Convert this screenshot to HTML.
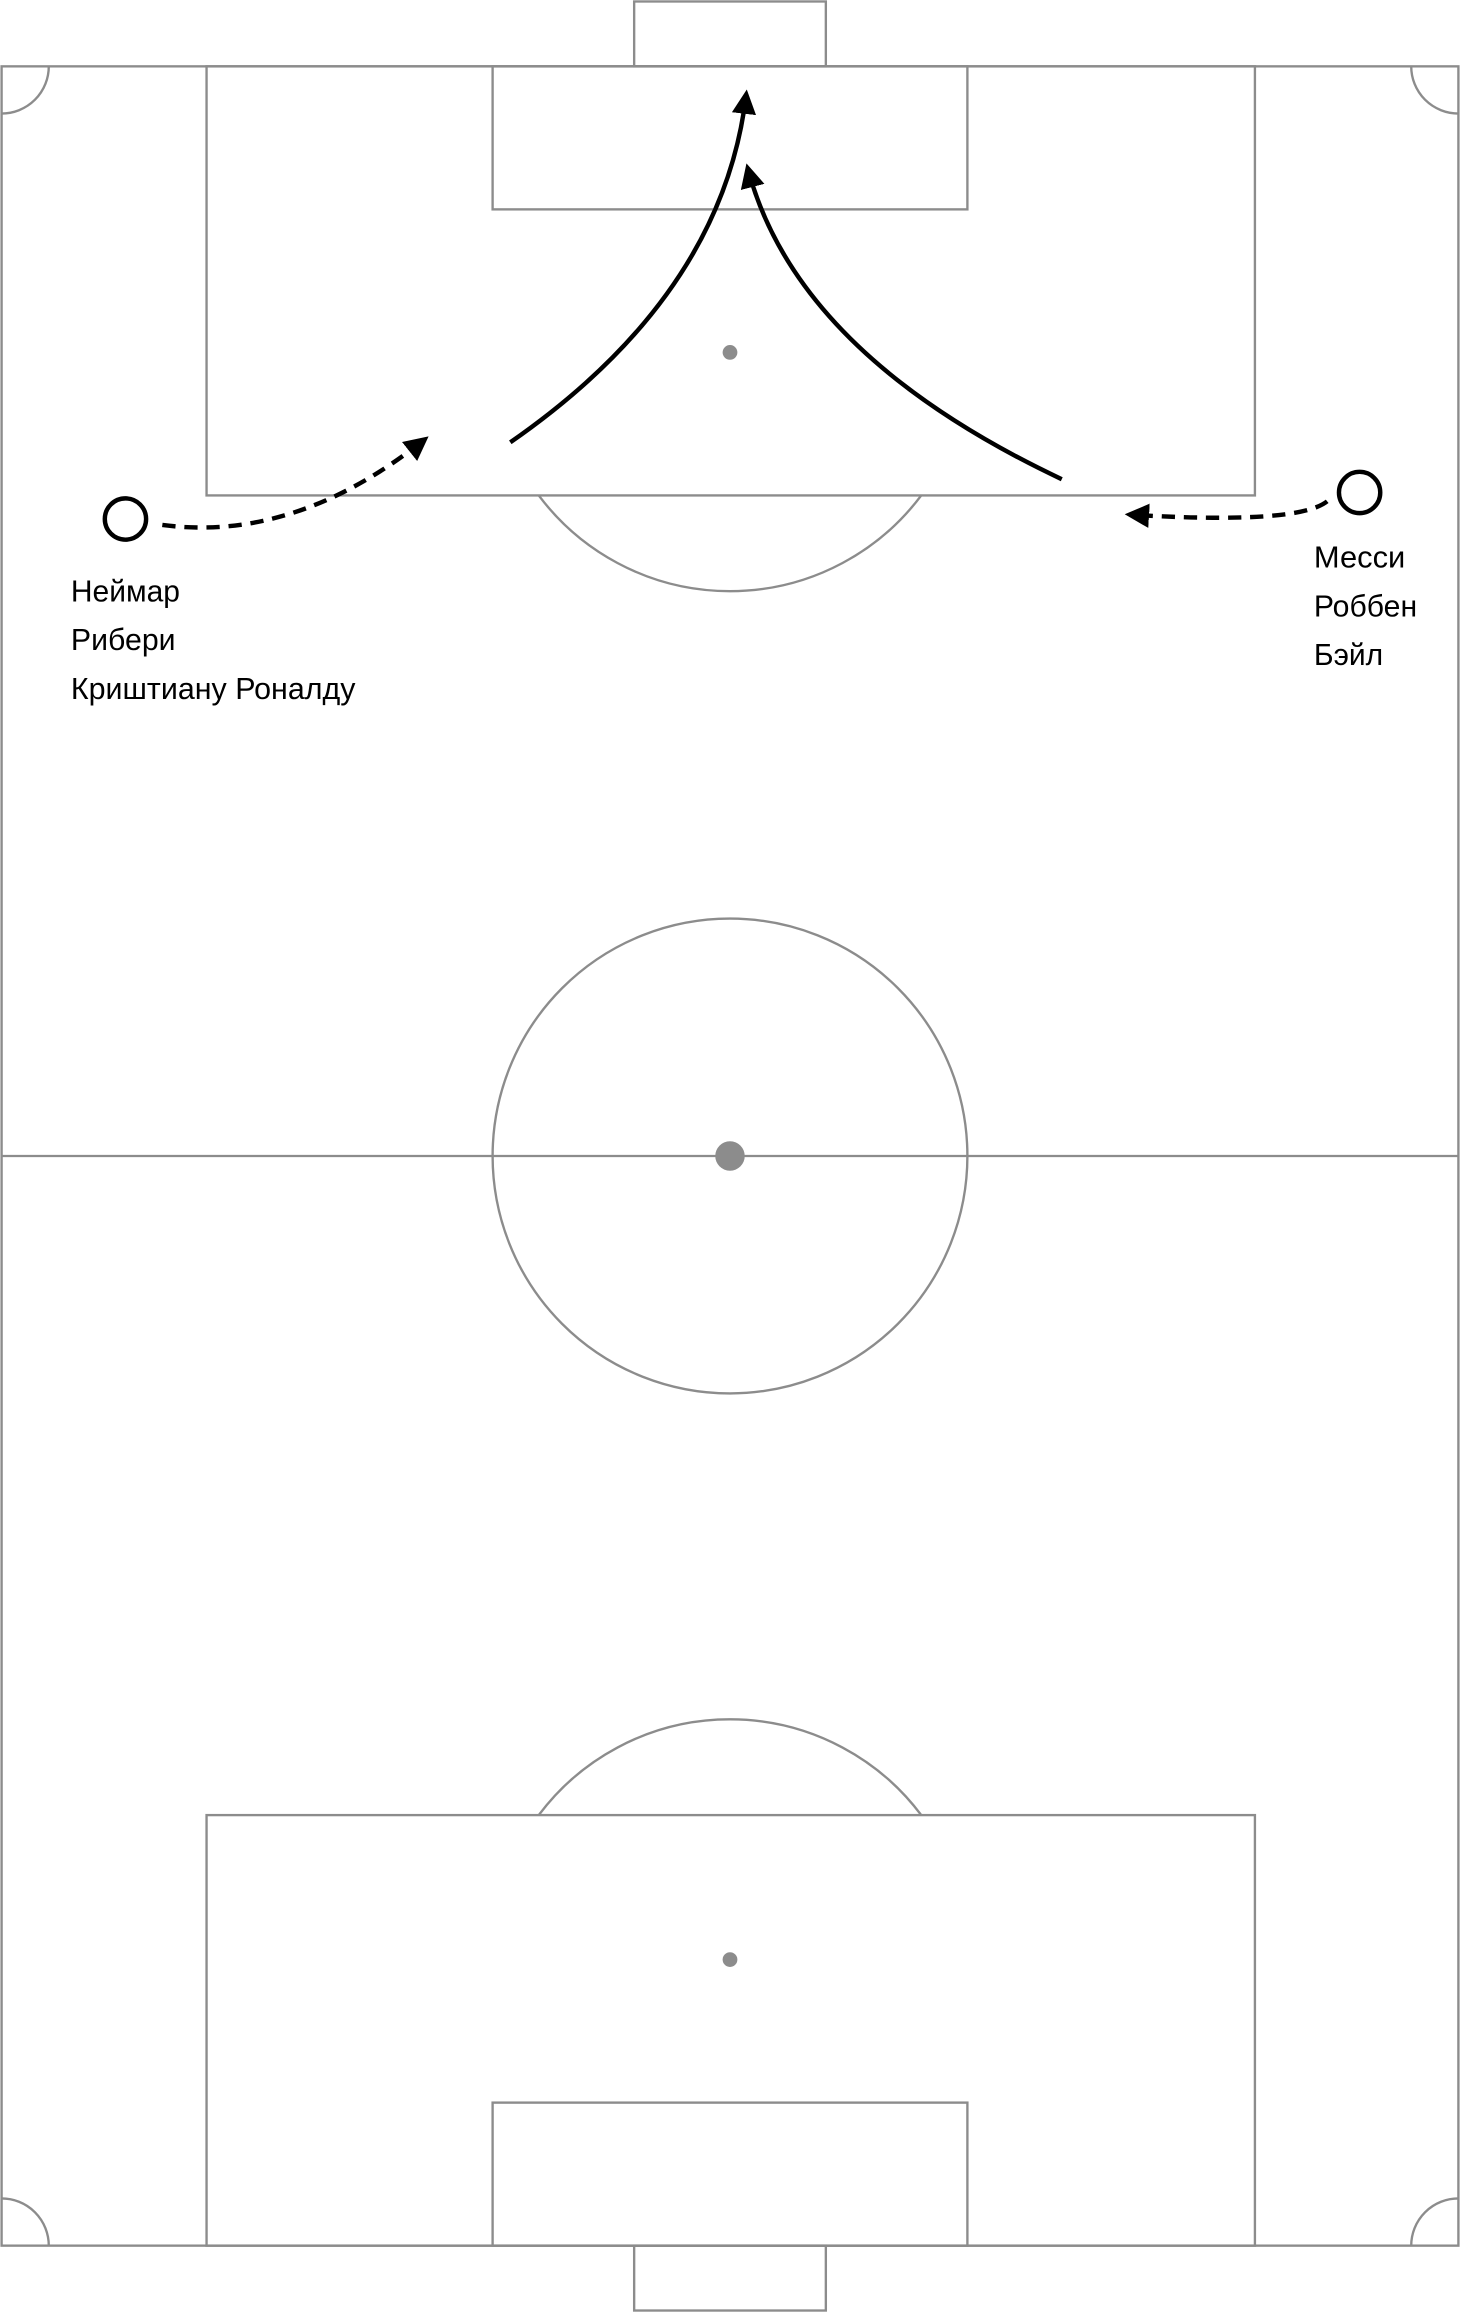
<!DOCTYPE html>
<html><head><meta charset="utf-8"><style>
html,body{margin:0;padding:0;background:#fff;}
svg{display:block;}
text{font-family:"Liberation Sans",sans-serif;font-size:21px;fill:#000;}
</style></head><body>
<svg width="1460" height="2312" viewBox="0 0 990 1568" xmlns="http://www.w3.org/2000/svg">
<defs>
<marker id="ah" viewBox="0 0 10 10" refX="8" refY="5" markerWidth="5.5" markerHeight="5.5" orient="auto" markerUnits="strokeWidth">
<path d="M0,0 L10,5 L0,10 z" fill="#000"/></marker>
</defs>
<g fill="none" stroke="#8c8c8c" stroke-width="1.6">
<rect x="1" y="45" width="988" height="1478"/>
<rect x="430" y="1" width="130" height="44"/>
<rect x="430" y="1523" width="130" height="44"/>
<rect x="140" y="45" width="711" height="291"/>
<rect x="334" y="45" width="322" height="97"/>
<path d="M365.3,336 A162,162 0 0 0 624.7,336"/>
<rect x="140" y="1231" width="711" height="292"/>
<rect x="334" y="1426" width="322" height="97"/>
<path d="M365.3,1231 A162,162 0 0 1 624.7,1231"/>
<line x1="1" y1="784" x2="989" y2="784"/>
<circle cx="495" cy="784" r="161"/>
<path d="M1,77 A32,32 0 0 0 33,45"/>
<path d="M957,45 A32,32 0 0 0 989,77"/>
<path d="M1,1491 A32,32 0 0 1 33,1523"/>
<path d="M957,1523 A32,32 0 0 1 989,1491"/>
</g>
<g fill="#8c8c8c">
<circle cx="495" cy="239" r="5"/>
<circle cx="495" cy="1329" r="5"/>
<circle cx="495" cy="784" r="10"/>
</g>
<g fill="none" stroke="#000" stroke-width="3">
<circle cx="85" cy="352" r="14"/>
<circle cx="922" cy="334" r="14"/>
<path d="M110,356 Q200,368 288,298" stroke-dasharray="9,6" marker-end="url(#ah)"/>
<path d="M900,340 Q880,356 766,349" stroke-dasharray="9,6" marker-end="url(#ah)"/>
<path d="M346,300 Q490,200 506,64" marker-end="url(#ah)"/>
<path d="M720,325 Q540,240 507,114" marker-end="url(#ah)"/>
</g>
<text x="48" y="408" textLength="74" lengthAdjust="spacingAndGlyphs">Неймар</text>
<text x="48" y="441" textLength="71" lengthAdjust="spacingAndGlyphs">Рибери</text>
<text x="48" y="474" textLength="193" lengthAdjust="spacingAndGlyphs">Криштиану Роналду</text>
<text x="891" y="385" textLength="62" lengthAdjust="spacingAndGlyphs">Месси</text>
<text x="891" y="418" textLength="70" lengthAdjust="spacingAndGlyphs">Роббен</text>
<text x="891" y="451" textLength="47" lengthAdjust="spacingAndGlyphs">Бэйл</text>
</svg>
</body></html>
